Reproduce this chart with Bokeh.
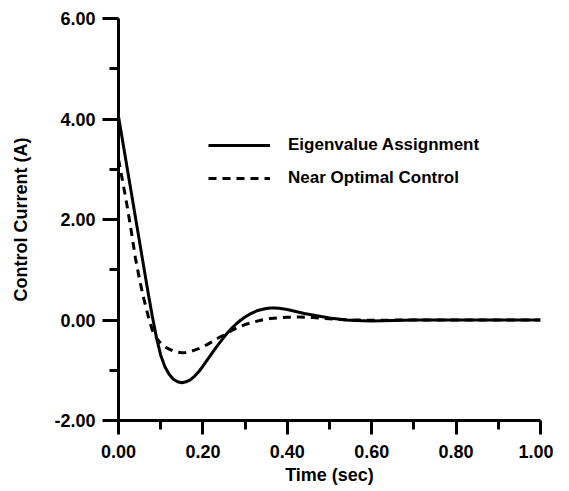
from bokeh.plotting import figure
from bokeh.models import Range1d, FixedTicker, PrintfTickFormatter, Legend, LegendItem
from bokeh.embed import file_html
from bokeh.resources import INLINE

# Data
t_eig = [0.000, 0.010, 0.020, 0.030, 0.040, 0.050, 0.060, 0.070, 0.080, 0.090,
         0.100, 0.110, 0.120, 0.130, 0.140, 0.150, 0.160, 0.170, 0.180, 0.190,
         0.200, 0.210, 0.220, 0.230, 0.240, 0.250, 0.260, 0.270, 0.280, 0.290,
         0.300, 0.310, 0.320, 0.330, 0.340, 0.350, 0.360, 0.370, 0.380, 0.400,
         0.420, 0.440, 0.460, 0.480, 0.500, 0.520, 0.540, 0.560, 0.600, 0.650,
         0.700, 0.800, 0.900, 1.000]
i_eig = [4.05, 3.55, 3.05, 2.55, 2.05, 1.55, 1.05, 0.55, 0.08, -0.35,
         -0.70, -0.93, -1.08, -1.18, -1.23, -1.25, -1.23, -1.19, -1.12, -1.03,
         -0.92, -0.80, -0.68, -0.56, -0.45, -0.34, -0.24, -0.15, -0.07, 0.00,
         0.06, 0.11, 0.15, 0.19, 0.21, 0.23, 0.24, 0.24, 0.235, 0.21,
         0.17, 0.13, 0.10, 0.07, 0.04, 0.02, 0.00, -0.01, -0.02, -0.01,
         0.00, 0.00, 0.00, 0.00]

t_opt = [0.000, 0.010, 0.020, 0.030, 0.040, 0.050, 0.060, 0.070, 0.080, 0.090,
         0.100, 0.110, 0.120, 0.130, 0.140, 0.150, 0.160, 0.170, 0.180, 0.190,
         0.200, 0.210, 0.220, 0.230, 0.240, 0.250, 0.260, 0.270, 0.280, 0.300,
         0.320, 0.340, 0.360, 0.380, 0.400, 0.430, 0.460, 0.490, 0.520, 0.560,
         0.600, 0.700, 0.800, 1.000]
i_opt = [3.20, 2.75, 2.29, 1.78, 1.24, 0.80, 0.42, 0.09, -0.20, -0.36,
         -0.46, -0.53, -0.58, -0.62, -0.64, -0.65, -0.645, -0.63, -0.60, -0.57,
         -0.53, -0.49, -0.44, -0.39, -0.34, -0.30, -0.25, -0.20, -0.16, -0.09,
         -0.04, 0.00, 0.03, 0.045, 0.055, 0.06, 0.05, 0.03, 0.01, 0.00,
         -0.005, 0.00, 0.00, 0.00]

x_major = [0.0, 0.2, 0.4, 0.6, 0.8, 1.0]
x_minor = [0.1, 0.3, 0.5, 0.7, 0.9]
y_major = [-2, 0, 2, 4, 6]
y_minor = [-1, 1, 3, 5]

labels = ["Eigenvalue Assignment", "Near Optimal Control"]

FONT = "Liberation Sans"

p = figure(width=553, height=487, output_backend="svg", toolbar_location=None,
           x_range=Range1d(0, 1), y_range=Range1d(-2, 6),
           min_border_left=118, min_border_right=13, min_border_top=18, min_border_bottom=64)
p.outline_line_color = None
p.xgrid.visible = False
p.ygrid.visible = False

p.xaxis.ticker = FixedTicker(ticks=x_major, minor_ticks=x_minor)
p.yaxis.ticker = FixedTicker(ticks=y_major, minor_ticks=y_minor)

for axs in (p.xaxis, p.yaxis):
    axs.axis_line_color = "black"
    axs.axis_line_width = 3
    axs.major_tick_line_color = "black"
    axs.minor_tick_line_color = "black"
    axs.major_tick_line_width = 3
    axs.minor_tick_line_width = 3
    axs.major_tick_in = 0
    axs.minor_tick_in = 0
    axs.major_label_text_font = FONT
    axs.major_label_text_font_style = "bold"
    axs.major_label_text_font_size = "18px"
    axs.major_label_text_color = "black"
    axs.axis_label_text_font = FONT
    axs.axis_label_text_font_style = "bold"
    axs.axis_label_text_font_size = "18px"
    axs.axis_label_text_color = "black"
    axs.formatter = PrintfTickFormatter(format="%.2f")

p.xaxis.major_tick_out = 14
p.xaxis.minor_tick_out = 9
p.yaxis.major_tick_out = 16
p.yaxis.minor_tick_out = 9
p.xaxis.major_label_standoff = 10
p.yaxis.major_label_standoff = 7
p.xaxis.axis_label = "Time (sec)"
p.yaxis.axis_label = "Control Current (A)"
p.xaxis.axis_label_standoff = 4
p.yaxis.axis_label_standoff = 20

r1 = p.line(t_eig, i_eig, line_color="black", line_width=3)
r2 = p.line(t_opt, i_opt, line_color="black", line_width=3, line_dash="8 6")

legend = Legend(items=[LegendItem(label=labels[0], renderers=[r1]),
                       LegendItem(label=labels[1], renderers=[r2])],
                location=(90, 232), orientation="vertical",
                padding=0, margin=0, spacing=13,
                glyph_width=62, glyph_height=20, label_height=20,
                label_standoff=18,
                label_text_font=FONT, label_text_font_style="bold",
                label_text_font_size="17px", label_text_color="black",
                border_line_color=None, background_fill_alpha=0)
p.add_layout(legend, "center")

open("out.html", "w").write(file_html(p, INLINE))
